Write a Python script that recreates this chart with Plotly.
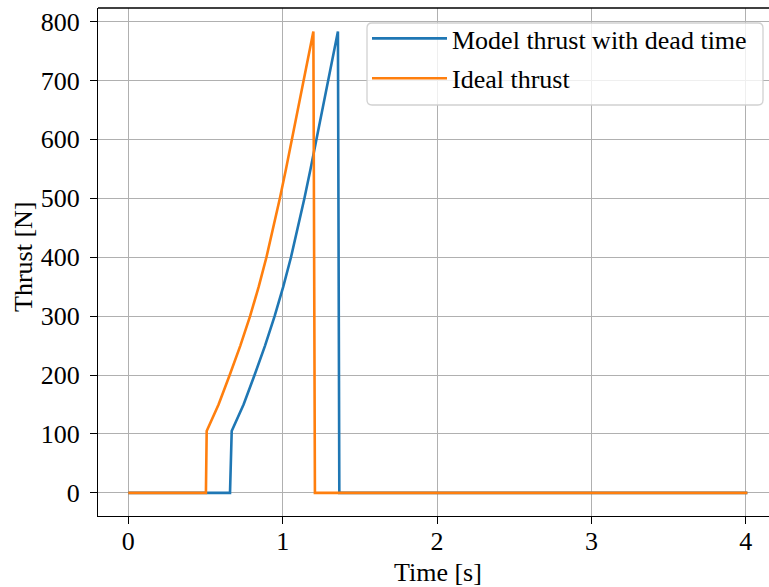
import plotly.graph_objects as go

# Data
t_model = [0.0, 0.659, 0.670, 0.747, 0.818, 0.886, 0.948, 1.004, 1.054, 1.099, 1.141,
           1.181, 1.219, 1.256, 1.293, 1.326, 1.358, 1.367, 4.01]
f_model = [0, 0, 105, 150, 200, 250, 300, 350, 400, 450, 500,
           550, 600, 650, 700, 742, 783, 0, 0]

t_ideal = [0.0, 0.503, 0.508, 0.585, 0.657, 0.726, 0.789, 0.845, 0.895, 0.940, 0.982,
           1.022, 1.060, 1.098, 1.135, 1.167, 1.199, 1.209, 4.01]
f_ideal = [0, 0, 105, 150, 200, 250, 300, 350, 400, 450, 500,
           550, 600, 650, 700, 742, 783, 0, 0]

x_ticks = [0, 1, 2, 3, 4]
y_ticks = [0, 100, 200, 300, 400, 500, 600, 700, 800]

FONT = "Liberation Serif, Times New Roman, serif"
FS = 26
TICKFONT = dict(family=FONT, size=FS, color="black")

L, R, T, B = 98, 769, 8, 516   # plot area in pixels


def px(xp):
    return (xp - L) / (R - L)


def py(yp):
    return (B - yp) / (B - T)


fig = go.Figure()
fig.add_trace(go.Scatter(x=t_model, y=f_model, mode="lines",
                         name="Model thrust with dead time", legendgroup="a",
                         line=dict(color="#1f77b4", width=2.6)))
fig.add_trace(go.Scatter(x=t_ideal, y=f_ideal, mode="lines",
                         name="Ideal thrust", legendgroup="b",
                         line=dict(color="#ff7f0e", width=2.6)))

fig.update_layout(
    template="none",
    width=769, height=587,
    margin=dict(l=L, r=769 - R, t=T, b=587 - B),
    paper_bgcolor="white", plot_bgcolor="white",
    font=dict(family=FONT, size=FS, color="black"),
    showlegend=True,
    legend=dict(x=px(367), y=py(15), xanchor="left", yanchor="top",
                bgcolor="rgba(0,0,0,0)", borderwidth=0,
                font=dict(family=FONT, size=FS, color="black"),
                itemwidth=75, tracegroupgap=3, traceorder="grouped"),
    xaxis=dict(range=[-0.196, 4.150], tickvals=x_ticks, tickfont=TICKFONT,
               showgrid=True, gridcolor="#b0b0b0", gridwidth=1.3,
               showline=True, linecolor="black", linewidth=1.3,
               ticks="outside", ticklen=7, tickwidth=1.3, tickcolor="black",
               ticklabelstandoff=-5,
               zeroline=False, mirror=False),
    yaxis=dict(range=[-39.2, 823], tickvals=y_ticks, tickfont=TICKFONT,
               showgrid=True, gridcolor="#b0b0b0", gridwidth=1.3,
               showline=True, linecolor="black", linewidth=1.3,
               ticks="outside", ticklen=7, tickwidth=1.3, tickcolor="black",
               ticklabelstandoff=5,
               zeroline=False, mirror=False),
)

# y axis label
fig.add_annotation(text="Thrust [N]", xref="paper", yref="paper",
                   x=px(23), y=py(257), textangle=-90,
                   xanchor="center", yanchor="middle", showarrow=False,
                   font=dict(family=FONT, size=FS, color="black"))

# top spine
fig.add_shape(type="line", xref="paper", yref="paper", x0=0, x1=1, y0=1, y1=1,
              line=dict(color="black", width=1.3))

# legend frame (rounded, semi-transparent like matplotlib)
x0, x1, y0, y1, r = 367, 763, 23, 105, 5
path = (f"M {px(x0 + r)},{py(y0)} L {px(x1 - r)},{py(y0)} "
        f"Q {px(x1)},{py(y0)} {px(x1)},{py(y0 + r)} "
        f"L {px(x1)},{py(y1 - r)} Q {px(x1)},{py(y1)} {px(x1 - r)},{py(y1)} "
        f"L {px(x0 + r)},{py(y1)} Q {px(x0)},{py(y1)} {px(x0)},{py(y1 - r)} "
        f"L {px(x0)},{py(y0 + r)} Q {px(x0)},{py(y0)} {px(x0 + r)},{py(y0)} Z")
fig.add_shape(type="path", path=path, xref="paper", yref="paper", layer="above",
              fillcolor="rgba(255,255,255,0.8)", line=dict(color="rgba(204,204,204,0.9)", width=1.3))

# x axis label centred on the full (cropped) axes
fig.add_annotation(text="Time [s]", xref="paper", yref="paper",
                   x=px(438), y=py(572),
                   xanchor="center", yanchor="middle", showarrow=False,
                   font=dict(family=FONT, size=FS, color="black"))

fig.write_html("out.html")
